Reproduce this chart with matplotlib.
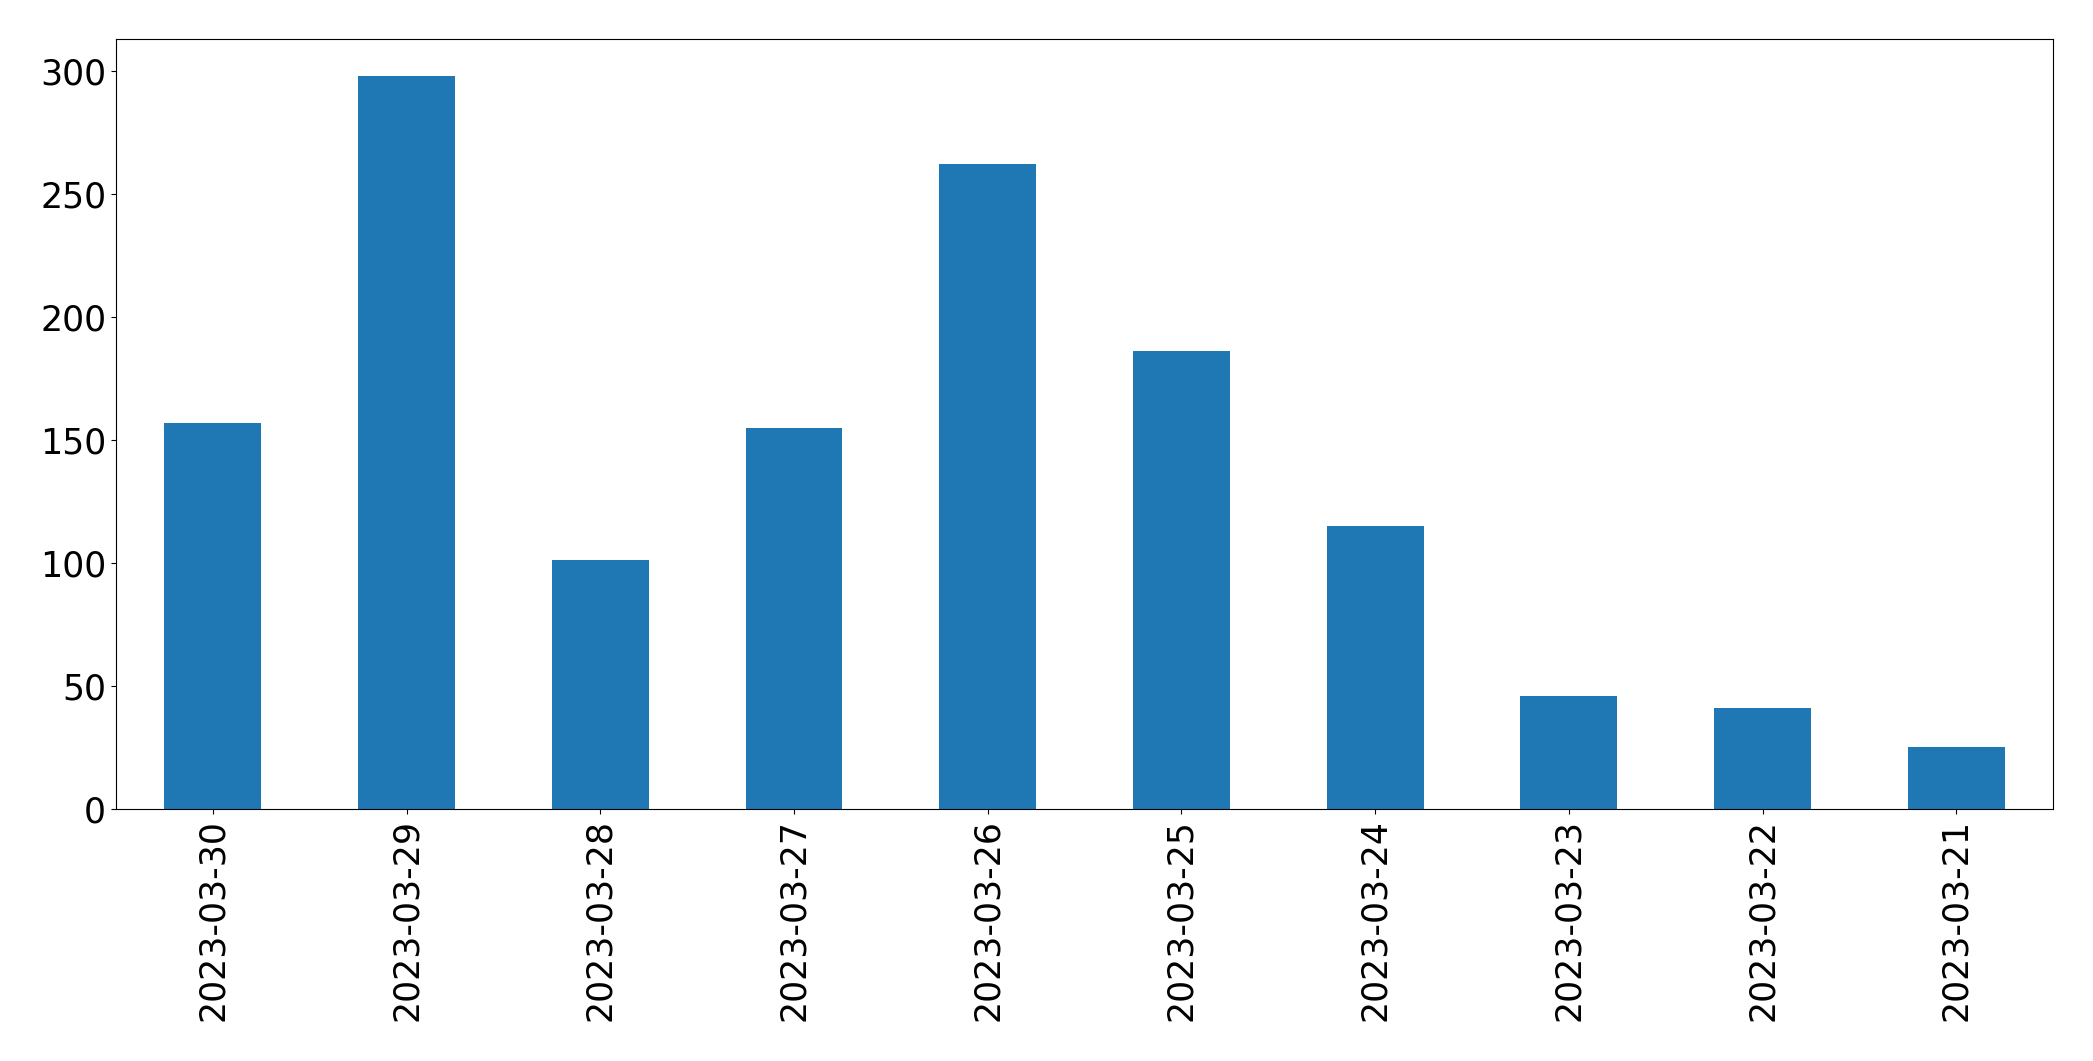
import matplotlib
matplotlib.use("Agg")
import matplotlib.pyplot as plt

# daily counts, newest first (as in the source chart)
dates = ["2023-03-30", "2023-03-29", "2023-03-28", "2023-03-27", "2023-03-26",
         "2023-03-25", "2023-03-24", "2023-03-23", "2023-03-22", "2023-03-21"]
counts = [157, 298, 101, 155, 262, 186, 115, 46, 41, 25]

fig, ax = plt.subplots(figsize=(20.93, 10.61), dpi=100)
fig.subplots_adjust(left=0.0554, right=0.981, bottom=0.2375, top=0.9632)

x = range(len(dates))
ax.bar(x, counts, width=0.5, color="#1f77b4")
ax.set_xlim(-0.5, len(dates) - 0.5)
ax.set_xticks(list(x))
ax.set_xticklabels(dates, rotation=90)
ax.tick_params(axis="both", labelsize=25)

fig.savefig("out.png", dpi=100)
